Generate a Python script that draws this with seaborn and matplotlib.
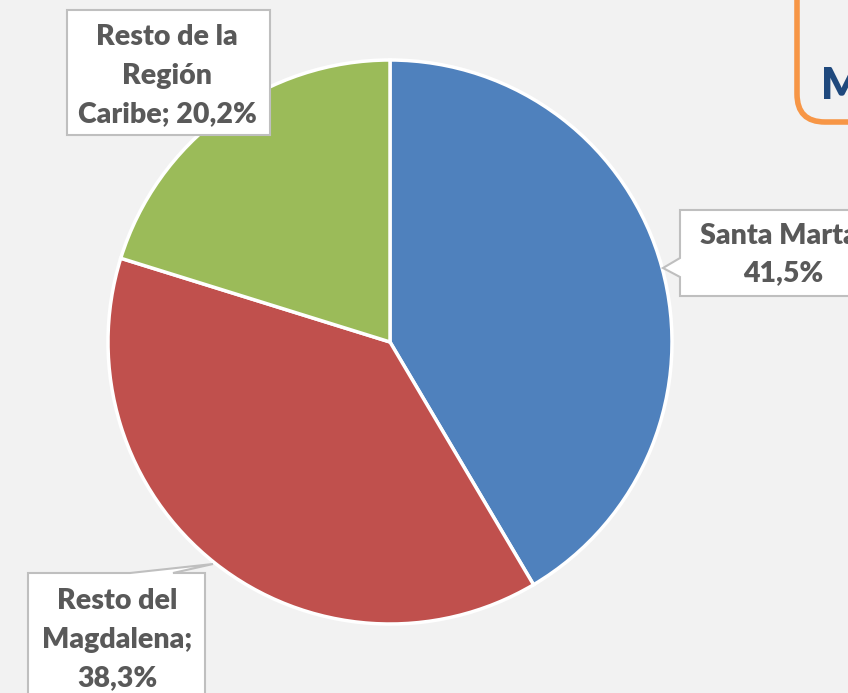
import matplotlib
matplotlib.use('Agg')
import matplotlib.pyplot as plt
import seaborn as sns
from matplotlib.patches import Polygon, FancyBboxPatch

sns.set_style('white')
plt.rcParams['font.family'] = ['Lato', 'DejaVu Sans']

# Datos del gráfico
categorias = ['Santa Marta', 'Resto del Magdalena', 'Resto de la Región Caribe']
porcentajes = [41.5, 38.3, 20.2]
etiquetas = ['Santa Marta;\n41,5%', 'Resto del\nMagdalena;\n38,3%', 'Resto de la\nRegión\nCaribe; 20,2%']
colores = ['#4F81BD', '#C0504D', '#9BBB59']

fondo = '#F2F2F2'
gris_texto = '#595959'
gris_borde = '#BFBFBF'

fig = plt.figure(figsize=(8.48, 6.93), dpi=100, facecolor=fondo)
ax = fig.add_axes([0, 0, 1, 1])
ax.set_facecolor(fondo)

# eje y invertido: startangle=-90 es arriba, counterclock=True gira en sentido horario en pantalla
ax.pie(porcentajes, colors=colores, center=(390, 342), radius=282,
       startangle=-90, counterclock=True,
       wedgeprops=dict(edgecolor='white', linewidth=2.5), frame=True)
ax.set_xlim(0, 848)
ax.set_ylim(693, 0)
ax.set_aspect('equal')
ax.axis('off')

# cajas de etiquetas (tipo globo)
cajas = [
    [(680, 210), (895, 210), (895, 296), (680, 296), (680, 277), (663, 268), (680, 258)],
    [(28, 573), (130, 573), (213, 564), (173, 573), (205, 573), (205, 700), (28, 700)],
    [(67, 10), (270, 10), (270, 135), (67, 135)],
]
pos_texto = [(783, 254), (117, 640), (167, 76)]

for caja, (tx, ty), texto in zip(cajas, pos_texto, etiquetas):
    ax.add_patch(Polygon(caja, closed=True, facecolor='white', edgecolor=gris_borde,
                         linewidth=1.5, zorder=5))
    ax.text(tx, ty, texto, ha='center', va='center', fontsize=20.5, fontweight='heavy',
            color=gris_texto, linespacing=1.6, zorder=6)

# recuadro naranja de la esquina
ax.add_patch(FancyBboxPatch((797, -60), 200, 182, boxstyle='round,pad=0,rounding_size=28',
                            facecolor='none', edgecolor='#F79646', linewidth=4, zorder=4))
ax.text(821, 86, 'M', ha='left', va='center', fontsize=31, fontweight='heavy',
        color='#1F497D', zorder=6)

fig.savefig('out.png', dpi=100, facecolor=fondo)
